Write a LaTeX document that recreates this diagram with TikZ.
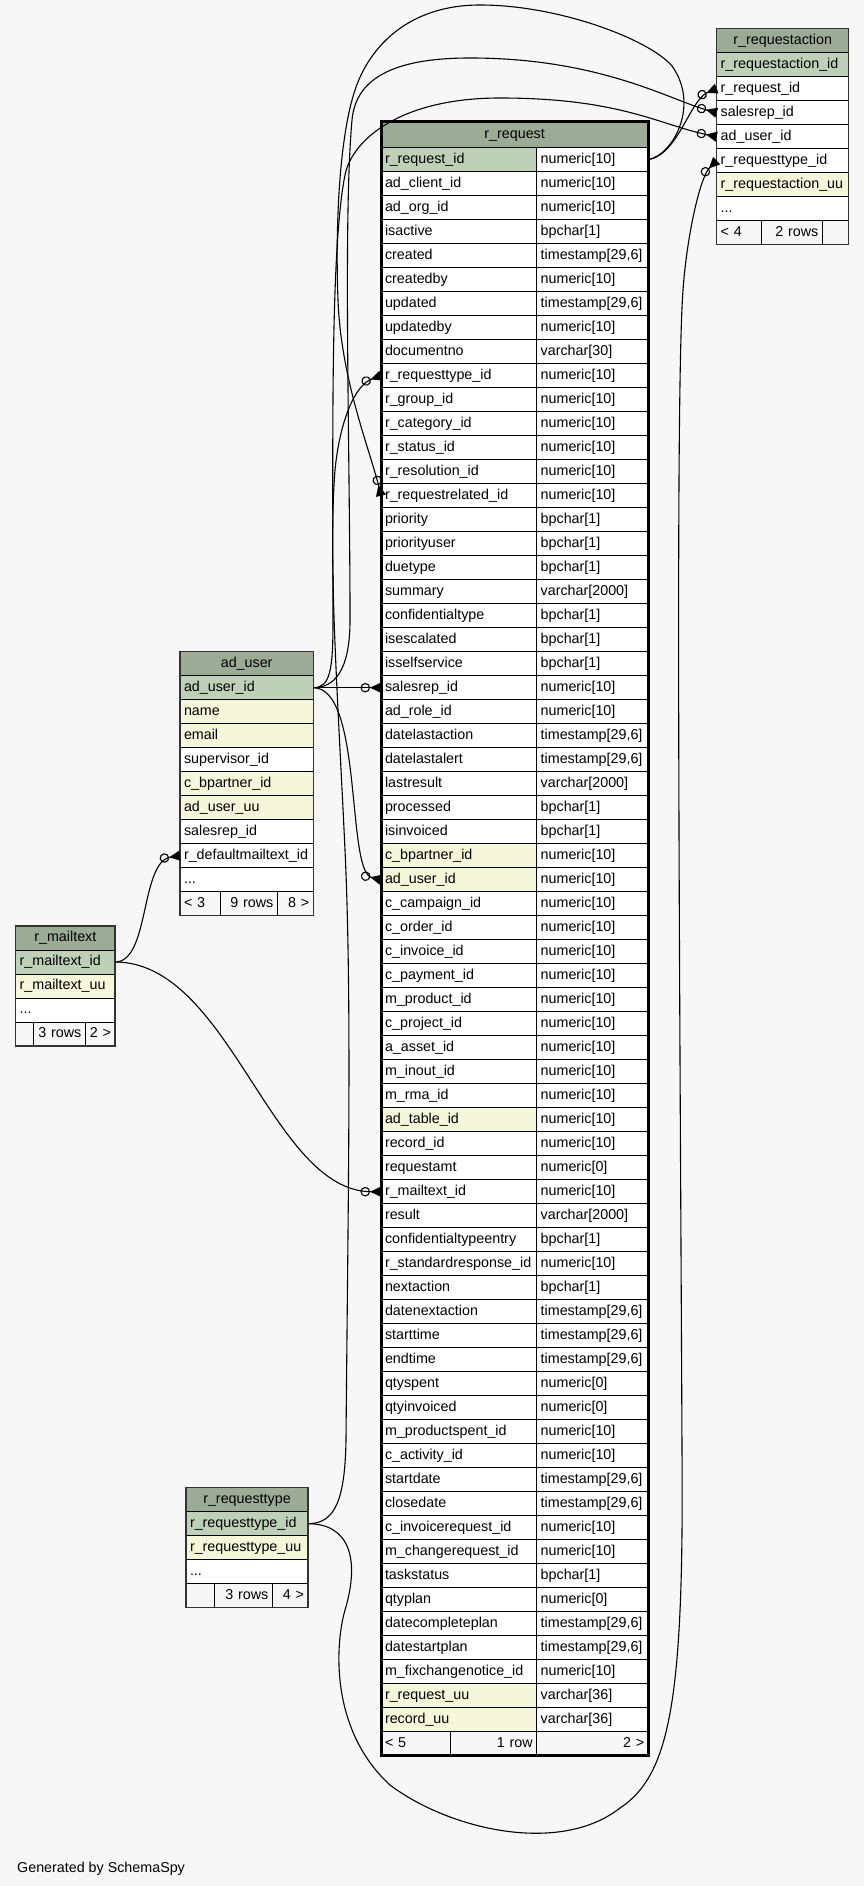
\documentclass[tikz,border=0pt]{standalone}
\usepackage{fontspec}
\setmainfont{Liberation Sans}
\usetikzlibrary{arrows.meta}
\pgfdeclarelayer{bg}
\pgfsetlayers{bg,main}
\definecolor{headcol}{HTML}{9BAB96}
\definecolor{pkcol}{HTML}{BED1B8}
\definecolor{idxcol}{HTML}{F4F7DA}
\definecolor{pagecol}{HTML}{F7F7F7}
\colorlet{rowcol}{white}
\colorlet{footcol}{pagecol}

\begin{document}
\catcode`\_=12
\begin{tikzpicture}[x=1pt,y=-1pt,
  cell/.style={draw,line width=1pt,fill=rowcol,anchor=north west,outer sep=0pt,
    inner xsep=4pt,inner ysep=0pt,minimum height=24pt,text height=10.7pt,
    text depth=3.6pt,align=left,font=\fontsize{14.3}{17}\selectfont},
  head/.style={cell,fill=headcol,align=center},
  foot/.style={cell,fill=footcol},
  frame/.style={draw=black!80,line width=1.2pt},
  fk/.style={line width=1.1pt,
    -{Circle[open,length=9.5pt,width=9.5pt]Triangle[reversed,length=11pt,width=10pt]}}]
  \useasboundingbox (0,0) rectangle (864,1886);
  \begin{pgfonlayer}{bg}
    \fill[pagecol] (0,0) rectangle (864,1886);
  \end{pgfonlayer}

  % r_requestaction
  \node[head,text width=124pt] (act-title) at (716.7,28.7) {r_requestaction};
  \foreach \col/\bg [count=\i] in {r_requestaction_id/pkcol,r_request_id/rowcol,
      salesrep_id/rowcol,ad_user_id/rowcol,r_requesttype_id/rowcol,r_requestaction_uu/idxcol} {
    \pgfmathsetmacro\y{28.7+24*\i}
    \node[cell,fill=\bg,text width=124pt] (act-\col) at (716.7,\y) {\col};
  }
  \node[cell,text width=124pt] (act-more) at (716.7,196.7) {...};
  \node[foot,text width=37pt] (act-foot1) at (716.7,220.7) {< 4};
  \node[foot,text width=52.6pt,align=right] (act-foot2) at (761.7,220.7) {2 rows};
  \node[foot,text width=18.4pt] (act-foot3) at (822.3,220.7) {};
  \draw[frame] (act-title.north west) rectangle (act-foot3.south east);

  % r_request
  \node[head,text width=259.3pt,minimum height=26pt] (req-title) at (381,121.7) {r_request};
  \foreach \col/\typ/\bg [count=\i] in {r_request_id/numeric[10]/pkcol,
      ad_client_id/numeric[10]/rowcol,ad_org_id/numeric[10]/rowcol,isactive/bpchar[1]/rowcol,
      created/{timestamp[29,6]}/rowcol,createdby/numeric[10]/rowcol,
      updated/{timestamp[29,6]}/rowcol,updatedby/numeric[10]/rowcol,
      documentno/varchar[30]/rowcol,r_requesttype_id/numeric[10]/rowcol,
      r_group_id/numeric[10]/rowcol,r_category_id/numeric[10]/rowcol,
      r_status_id/numeric[10]/rowcol,r_resolution_id/numeric[10]/rowcol,
      r_requestrelated_id/numeric[10]/rowcol,priority/bpchar[1]/rowcol,
      priorityuser/bpchar[1]/rowcol,duetype/bpchar[1]/rowcol,summary/varchar[2000]/rowcol,
      confidentialtype/bpchar[1]/rowcol,isescalated/bpchar[1]/rowcol,
      isselfservice/bpchar[1]/rowcol,salesrep_id/numeric[10]/rowcol,
      ad_role_id/numeric[10]/rowcol,datelastaction/{timestamp[29,6]}/rowcol,
      datelastalert/{timestamp[29,6]}/rowcol,lastresult/varchar[2000]/rowcol,
      processed/bpchar[1]/rowcol,isinvoiced/bpchar[1]/rowcol,
      c_bpartner_id/numeric[10]/idxcol,ad_user_id/numeric[10]/idxcol,
      c_campaign_id/numeric[10]/rowcol,c_order_id/numeric[10]/rowcol,
      c_invoice_id/numeric[10]/rowcol,c_payment_id/numeric[10]/rowcol,
      m_product_id/numeric[10]/rowcol,c_project_id/numeric[10]/rowcol,
      a_asset_id/numeric[10]/rowcol,m_inout_id/numeric[10]/rowcol,
      m_rma_id/numeric[10]/rowcol,ad_table_id/numeric[10]/idxcol,
      record_id/numeric[10]/rowcol,requestamt/numeric[0]/rowcol,
      r_mailtext_id/numeric[10]/rowcol,result/varchar[2000]/rowcol,
      confidentialtypeentry/bpchar[1]/rowcol,r_standardresponse_id/numeric[10]/rowcol,
      nextaction/bpchar[1]/rowcol,datenextaction/{timestamp[29,6]}/rowcol,
      starttime/{timestamp[29,6]}/rowcol,endtime/{timestamp[29,6]}/rowcol,
      qtyspent/numeric[0]/rowcol,qtyinvoiced/numeric[0]/rowcol,
      m_productspent_id/numeric[10]/rowcol,c_activity_id/numeric[10]/rowcol,
      startdate/{timestamp[29,6]}/rowcol,closedate/{timestamp[29,6]}/rowcol,
      c_invoicerequest_id/numeric[10]/rowcol,m_changerequest_id/numeric[10]/rowcol,
      taskstatus/bpchar[1]/rowcol,qtyplan/numeric[0]/rowcol,
      datecompleteplan/{timestamp[29,6]}/rowcol,datestartplan/{timestamp[29,6]}/rowcol,
      m_fixchangenotice_id/numeric[10]/rowcol,r_request_uu/varchar[36]/idxcol,
      record_uu/varchar[36]/idxcol} {
    \pgfmathsetmacro\y{123.7+24*\i}
    \node[cell,fill=\bg,text width=147.7pt] (req-\col) at (381,\y) {\col};
    \node[cell,text width=103.6pt] (req-\col-t) at (536.7,\y) {\typ};
  }
  \node[foot,text width=61.7pt] (req-foot1) at (381,1731.7) {< 5};
  \node[foot,text width=78pt,align=right] (req-foot2) at (450.7,1731.7) {1 row};
  \node[foot,text width=103.6pt,align=right] (req-foot3) at (536.7,1731.7) {2 >};
  \draw[line width=3pt] (req-title.north west) rectangle (req-foot3.south east);

  % ad_user
  \node[head,text width=125.3pt] (usr-title) at (180,651.7) {ad_user};
  \foreach \col/\bg [count=\i] in {ad_user_id/pkcol,name/idxcol,email/idxcol,
      supervisor_id/rowcol,c_bpartner_id/idxcol,ad_user_uu/idxcol,salesrep_id/rowcol,
      r_defaultmailtext_id/rowcol} {
    \pgfmathsetmacro\y{651.7+24*\i}
    \node[cell,fill=\bg,text width=125.3pt] (usr-\col) at (180,\y) {\col};
  }
  \node[cell,text width=125.3pt] (usr-more) at (180,867.7) {...};
  \node[foot,text width=32pt] (usr-foot1) at (180,891.7) {< 3};
  \node[foot,text width=49.3pt,align=right] (usr-foot2) at (220,891.7) {9 rows};
  \node[foot,text width=28pt,align=right] (usr-foot3) at (277.3,891.7) {8 >};
  \draw[frame] (usr-title.north west) rectangle (usr-foot3.south east);

  % r_mailtext
  \node[head,text width=91.3pt] (mt-title) at (15.7,926) {r_mailtext};
  \node[cell,fill=pkcol,text width=91.3pt] (mt-r_mailtext_id) at (15.7,950) {r_mailtext_id};
  \node[cell,fill=idxcol,text width=91.3pt] (mt-r_mailtext_uu) at (15.7,974) {r_mailtext_uu};
  \node[cell,text width=91.3pt] (mt-more) at (15.7,998) {...};
  \node[foot,text width=9.6pt] (mt-foot1) at (15.7,1022) {};
  \node[foot,text width=44pt,align=right] (mt-foot2) at (33.3,1022) {3 rows};
  \node[foot,text width=21.7pt,align=right] (mt-foot3) at (85.3,1022) {2 >};
  \draw[frame] (mt-title.north west) rectangle (mt-foot3.south east);

  % r_requesttype
  \node[head,text width=114pt] (typ-title) at (186,1487.7) {r_requesttype};
  \node[cell,fill=pkcol,text width=114pt] (typ-r_requesttype_id) at (186,1511.7) {r_requesttype_id};
  \node[cell,fill=idxcol,text width=114pt] (typ-r_requesttype_uu) at (186,1535.7) {r_requesttype_uu};
  \node[cell,text width=114pt] (typ-more) at (186,1559.7) {...};
  \node[foot,text width=20.3pt] (typ-foot1) at (186,1583.7) {};
  \node[foot,text width=50pt,align=right] (typ-foot2) at (214.3,1583.7) {3 rows};
  \node[foot,text width=27.7pt,align=right] (typ-foot3) at (272.3,1583.7) {4 >};
  \draw[frame] (typ-title.north west) rectangle (typ-foot3.south east);

  \node[anchor=base west,inner sep=0pt,font=\fontsize{14.3}{17}\selectfont] (credit) at (17,1872) {Generated by SchemaSpy};

  % relationships
  \draw[fk] (usr-ad_user_id.east) -- (req-salesrep_id.west);
  \draw[fk] (usr-ad_user_id.east) .. controls +(50,0) and +(-35,-8) .. (req-ad_user_id.west);
  \draw[fk] (usr-ad_user_id.east) .. controls +(27,0) and (350,660) .. (350,620)
    .. controls (350,450) and (343,220) .. (352,120) .. controls (356,75) and (400,58) .. (470,58)
    .. controls (600,58) and (670,100) .. (act-salesrep_id.west);
  \draw[fk] (usr-ad_user_id.east) .. controls +(17,0) and (333,670) .. (333,620)
    .. controls (333,450) and (330,250) .. (345,175) .. controls (352,140) and (400,98) .. (500,98)
    .. controls (620,98) and (660,125) .. (act-ad_user_id.west);
  \draw[fk] (req-r_request_id-t.east) .. controls +(30,-5) and +(-27,11) .. (act-r_request_id.west);
  \draw[fk] (req-r_request_id-t.east) .. controls +(25,-5) and (700,105) .. (672,66)
    .. controls (650,40) and (560,5) .. (480,5) .. controls (410,5) and (370,45) .. (355,90)
    .. controls (340,135) and (335,220) .. (338,300)
    .. controls (341,380) and (370,450) .. (req-r_requestrelated_id.west);
  \draw[fk] (mt-r_mailtext_id.east) .. controls +(35,0) and +(-40,6) .. (usr-r_defaultmailtext_id.west);
  \draw[fk] (mt-r_mailtext_id.east) .. controls +(115,0) and +(-110,0) .. (req-r_mailtext_id.west);
  \draw[fk] (typ-r_requesttype_id.east) .. controls +(27,0) and (345,1500) .. (346,1440)
    .. controls (348,1200) and (352,1000) .. (345,850) .. controls (338,700) and (328,560) .. (335,470)
    .. controls (340,420) and (355,385) .. (req-r_requesttype_id.west);
  \draw[fk] (typ-r_requesttype_id.east) .. controls +(42,0) and (360,1560) .. (345,1610)
    .. controls (335,1645) and (330,1730) .. (390,1785) .. controls (450,1830) and (560,1855) .. (620,1808)
    .. controls (670,1775) and (684,1700) .. (682,1450) .. controls (680,1000) and (675,400) .. (683,290)
    .. controls (687,235) and (700,177) .. (act-r_requesttype_id.west);
\end{tikzpicture}
\end{document}
